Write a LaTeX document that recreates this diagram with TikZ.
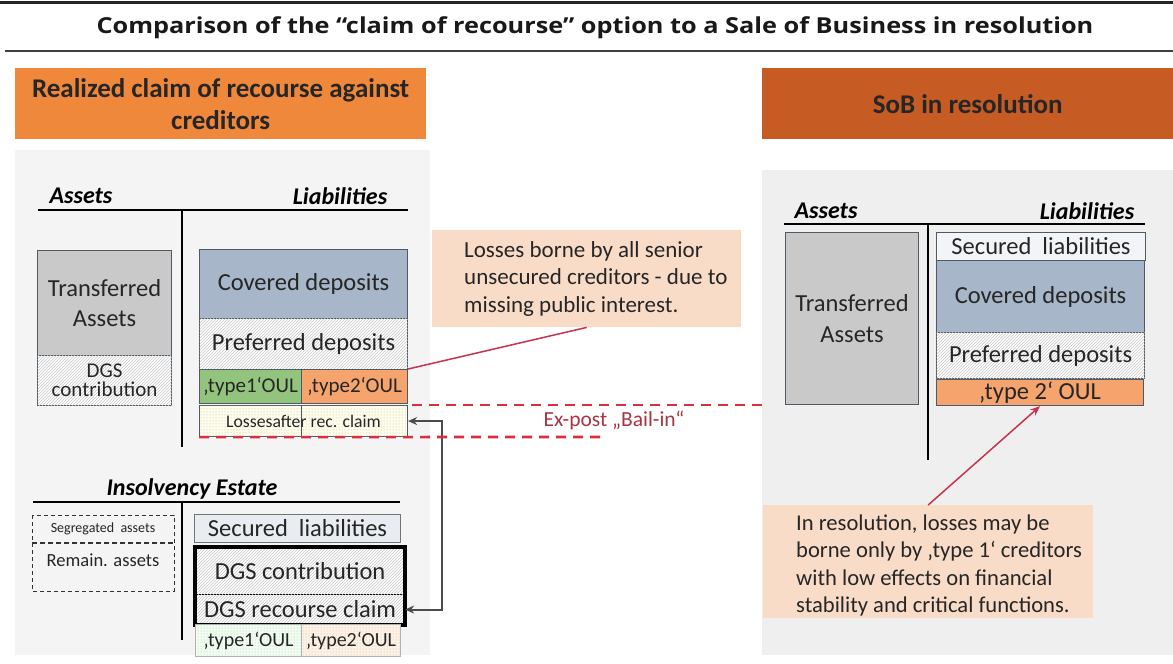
\documentclass[tikz,border=0pt]{standalone}
\usepackage{fontspec}
\setmainfont{Carlito}
\newfontfamily\titlefont{Open Sans}
\usetikzlibrary{patterns,arrows.meta}
\definecolor{orangeL}{HTML}{F0883C}
\definecolor{orangeR}{HTML}{C65B24}
\definecolor{peach}{HTML}{F9DCC8}
\definecolor{panel}{HTML}{EFEFEF}
\definecolor{covblue}{HTML}{A7B6C8}
\definecolor{tgray}{HTML}{C9C9C9}
\definecolor{tgreen}{HTML}{93C47D}
\definecolor{torange}{HTML}{F4A46C}
\definecolor{secfill}{HTML}{E9EDF1}
\definecolor{bord}{HTML}{4F5A64}
\definecolor{dred}{HTML}{DC2E3C}
\definecolor{lred}{HTML}{C8324E}
\definecolor{txtred}{HTML}{A83444}
\definecolor{txt}{HTML}{262626}
\tikzset{
  box/.style={draw=bord, line width=1.1pt, anchor=north west, inner sep=0pt, text=txt, align=center},
  hatch/.style={fill=white, postaction={pattern=north east lines, pattern color=gray!45}},
  dotty/.style={postaction={pattern=dots, pattern color=gray!55}},
  f20/.style={font=\fontsize{24.5}{30.5}\selectfont},
  f18/.style={font=\fontsize{21}{19}\selectfont},
  f17/.style={font=\fontsize{21}{24}\selectfont},
  hdr/.style={anchor=north west, inner sep=0pt, align=center, text=txt,
    font=\bfseries\fontsize{27}{32}\selectfont},
  al/.style={font=\bfseries\itshape\fontsize{24}{26}\selectfont, text=black, inner sep=0pt},
  tline/.style={line width=2.6pt, black},
  callout/.style={anchor=north west, fill=peach, inner sep=0pt},
  calltext/.style={anchor=west, align=left, inner sep=0pt, text=txt},
  dashred/.style={dred, line width=2.6pt, dash pattern=on 10pt off 7pt},
}
\begin{document}
\begin{tikzpicture}[x=1pt, y=-1pt]
\useasboundingbox (0,0) rectangle (1173,664);
\fill[white] (0,0) rectangle (1173,664);
% title rules
\draw[line width=3pt, black!85] (0,2.5) -- (1173,2.5);
\draw[line width=2pt, black!75] (5,51) -- (1173,51);
\node[font=\titlefont\bfseries\fontsize{22}{26}\selectfont, text=black!90] (title) at (595,28)
  {\scalebox{1.15}[1]{Comparison of the “claim of recourse” option to a Sale of Business in resolution}};
% panels
\fill[panel!70] (15,150) rectangle (430,655);
\fill[panel] (762,170) rectangle (1173,655);
% headers
\node[hdr, fill=orangeL, minimum width=411, minimum height=71] (hdrL) at (15,68)
  {Realized claim of recourse against\\creditors};
\node[hdr, fill=orangeR, minimum width=411, minimum height=71] (hdrR) at (762,68)
  {SoB in resolution};
% ---------- left balance sheet
\node[al] (assL) at (81,196) {Assets};
\node[al] (liaL) at (340,196) {Liabilities};
\draw[tline] (38,210) -- (408,210);
\draw[tline] (182,210) -- (182,447);
\node[box, f20, fill=tgray, minimum width=134, minimum height=105] (transL) at (37,250) {Transferred\\Assets};
\node[box, f18, hatch, minimum width=134, minimum height=50] (dgsL) at (37,355) {DGS\\contribution};
\node[box, f20, fill=covblue, minimum width=208, minimum height=69] (covL) at (199,249) {Covered deposits};
\node[box, f20, hatch, minimum width=208, minimum height=51] (prefL) at (199,318) {Preferred deposits};
\node[box, f17, fill=tgreen, minimum width=102, minimum height=34] (t1L) at (199,369) {‚type1‘OUL};
\node[box, f17, fill=torange, minimum width=106, minimum height=34] (t2L) at (301,369) {‚type2‘OUL};
\node[box, fill=yellow!8!white, dotty, minimum width=208, minimum height=31] (lossL) at (199,405) {};
\draw[bord, line width=1pt] (301,405) -- (301,436);
\node[font=\fontsize{17.7}{20}\selectfont, text=txt] (lossT) at (lossL.center) {Lossesafter rec. claim};
% ---------- insolvency estate
\node[al] (insE) at (192,489) {Insolvency Estate};
\draw[tline] (33,502) -- (400,502);
\draw[tline] (182,502) -- (182,640);
\draw[black!80, line width=1pt, dash pattern=on 4pt off 3pt] (32,515) rectangle (174,591);
\draw[black!80, line width=2pt, dash pattern=on 5pt off 3pt] (32,543) -- (174,543);
\node[font=\fontsize{14}{16}\selectfont, text=txt] (seg) at (103,529) {Segregated\ \ assets};
\node[font=\fontsize{18.5}{20}\selectfont, text=txt] (rem) at (103,560) {Remain. assets};
\node[box, f20, fill=secfill, draw=gray!70!bord, minimum width=206, minimum height=28] (secI) at (194,514) {Secured\ \ liabilities};
\node[box, f20, hatch, draw=black, minimum width=209, minimum height=47] (dgsI) at (195,547) {DGS contribution};
\node[box, f20, hatch, draw=black, minimum width=209, minimum height=30] (recI) at (195,594) {DGS recourse claim};
\draw[black, line width=3.5pt] (dgsI.north west) rectangle (recI.south east);
\node[box, fill=green!6!white, dotty, draw=gray!60, minimum width=106, minimum height=32, font=\fontsize{20}{22}\selectfont] (t1I) at (195,624) {‚type1‘OUL};
\node[box, fill=orange!10!white, dotty, draw=gray!60, minimum width=99, minimum height=32, font=\fontsize{20}{22}\selectfont] (t2I) at (301,624) {‚type2‘OUL};
% gray double arrow
\draw[black!70, line width=2pt, {Stealth[length=9pt,width=8pt]}-{Stealth[length=9pt,width=8pt]}]
  (lossL.east) -- ++(34,0) |- (recI.east);
% ---------- callout 1
\node[callout, minimum width=309, minimum height=97] (c1) at (432,230) {};
\node[calltext, font=\fontsize{23}{27.3}\selectfont] (c1t) at ([xshift=32pt]c1.west) {Losses borne by all senior\\unsecured creditors - due to\\missing public interest.};
\draw[lred, line width=1.5pt] (c1.south) -- (t2L.north east);
% ---------- dashed lines
\coordinate (du1) at (412,405);
\coordinate (du2) at (762,405);
\coordinate (dl2) at (607,437);
\draw[dashred] (du1) -- (du2);
\draw[dashred] (lossL.south west) -- (dl2);
\node[font=\fontsize{21.5}{24}\selectfont, text=txtred] (bail) at (614,420) {Ex-post „Bail-in“};
% ---------- right balance sheet
\node[al] (assR) at (826,211) {Assets};
\node[al] (liaR) at (1087,211) {Liabilities};
\draw[tline] (784,224) -- (1145,224);
\draw[tline] (928,224) -- (928,460);
\node[box, f20, fill=tgray, minimum width=133, minimum height=172] (transR) at (785,232) {Transferred\\Assets};
\node[box, f20, fill=secfill!60!white, minimum width=209, minimum height=28] (secR) at (936,232) {Secured\ \ liabilities};
\node[box, f20, fill=covblue, minimum width=208, minimum height=72] (covR) at (936,260) {Covered deposits};
\node[box, f20, hatch, minimum width=208, minimum height=46] (prefR) at (936,332) {Preferred deposits};
\node[box, f20, fill=torange, minimum width=207, minimum height=26] (t2R) at (936,379) {‚type 2‘ OUL};
% ---------- callout 2
\node[callout, minimum width=330, minimum height=113] (c2) at (763,505) {};
\node[calltext, font=\fontsize{22.6}{27.5}\selectfont] (c2t) at ([xshift=33pt,yshift=-4pt]c2.west) {In resolution, losses may be\\borne only by ‚type 1‘ creditors\\with low effects on financial\\stability and critical functions.};
\draw[lred, line width=1.5pt, -{Stealth[length=10pt,width=8pt]}] (c2.north) -- (t2R.south);
\end{tikzpicture}
\end{document}
